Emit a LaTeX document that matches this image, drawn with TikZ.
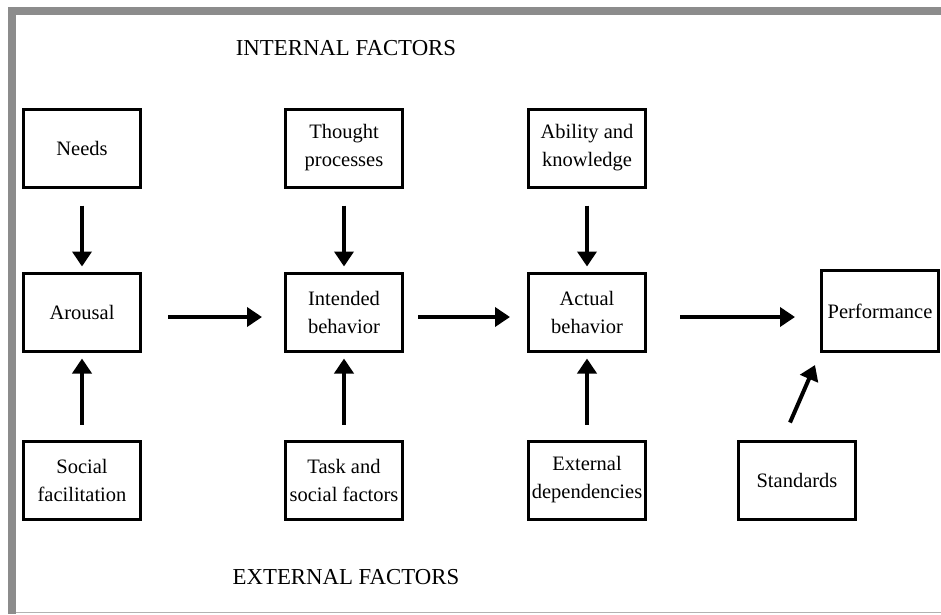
\documentclass[tikz,border=0pt]{standalone}
\usepackage{fontspec}
\setmainfont{Liberation Serif}
\usetikzlibrary{arrows.meta}
\definecolor{framegray}{RGB}{140,140,140}
\begin{document}
\begin{tikzpicture}
		[x=1pt,y=-1pt,
		factor/.style={draw,line width=3pt,minimum width=117pt,minimum height=78pt,inner sep=0pt,align=center,font=\fontsize{20.5}{28}\selectfont},
		flow/.style={line width=4pt,-{Triangle[length=15pt,width=19pt]}},
		heading/.style={font=\fontsize{22.8}{26}\selectfont}]
		% page frame
		\useasboundingbox (0,0) rectangle (941,614);
		\fill[framegray] (8,7) rectangle (941,15);
		\fill[framegray] (8,7) rectangle (16,614);
		\draw[gray!60,line width=1.5pt] (16,612.5) -- (941,612.5);

		% the two headings
		\node[heading] (internal) at (346,48) {INTERNAL FACTORS};
		\node[heading] (external) at (346,577) {EXTERNAL FACTORS};

		% internal factors
		\node[factor] (needs) at (82,148) {Needs};
		\node[factor] (thought) at (344,148) {Thought\\processes};
		\node[factor] (ability) at (587,148) {Ability and\\knowledge};

		% the chain
		\node[factor] (arousal) at (82,312) {Arousal};
		\node[factor] (intended) at (344,312) {Intended\\behavior};
		\node[factor] (actual) at (587,312) {Actual\\behavior};
		\node[factor,minimum height=81pt] (performance) at (880,311) {Performance};

		% external factors
		\node[factor] (social) at (82,480) {Social\\facilitation};
		\node[factor] (task) at (344,480) {Task and\\social factors};
		\node[factor] (dependencies) at (587,480) {External\\dependencies};
		\node[factor] (standards) at (797,480) {Standards};

		% draw the arrows
		\draw[flow] ([yshift=-17]needs.south) -- ([yshift=5]arousal.north);
		\draw[flow] ([yshift=-17]thought.south) -- ([yshift=5]intended.north);
		\draw[flow] ([yshift=-17]ability.south) -- ([yshift=5]actual.north);
		\draw[flow] ([yshift=15]social.north) -- ([yshift=-6]arousal.south);
		\draw[flow] ([yshift=15]task.north) -- ([yshift=-6]intended.south);
		\draw[flow] ([yshift=15]dependencies.north) -- ([yshift=-6]actual.south);
		\draw[flow] ([xshift=26,yshift=-5]arousal.east) -- ([xshift=-22,yshift=-5]intended.west);
		\draw[flow] ([xshift=14,yshift=-5]intended.east) -- ([xshift=-17,yshift=-5]actual.west);
		\draw[flow] ([xshift=33,yshift=-5]actual.east) -- ([xshift=-25,yshift=-6]performance.west);
		\draw[flow] ([xshift=-7,yshift=17]standards.north) -- ([xshift=-5,yshift=-12]performance.south west);
	\end{tikzpicture}
\end{document}
